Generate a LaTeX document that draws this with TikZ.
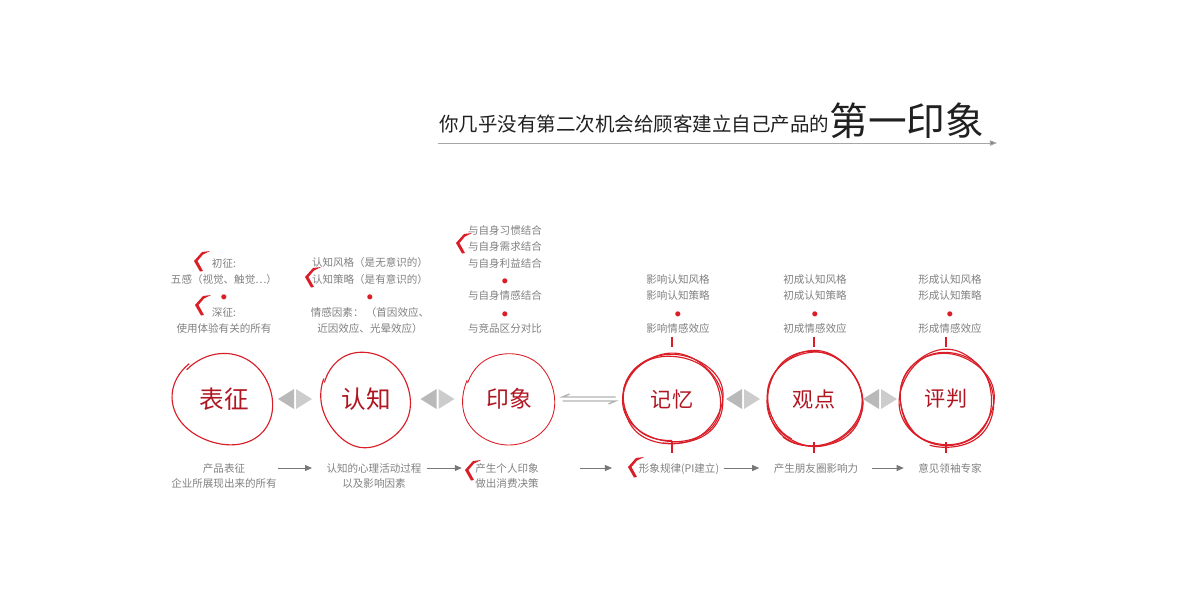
\documentclass[tikz,border=0pt]{standalone}
\usepackage{fontspec}
\setmainfont{Noto Sans CJK SC}
\usetikzlibrary{calc,arrows.meta}

\definecolor{ringred}{RGB}{218,30,40}
\definecolor{wordred}{RGB}{176,22,34}
\definecolor{notegray}{RGB}{128,128,128}
\definecolor{linegray}{RGB}{120,120,120}
\definecolor{inkblack}{RGB}{32,32,32}

\tikzset{
  ring/.style={draw=ringred, line width=0.65pt},
  word/.style={text=wordred, inner sep=0pt, font=\fontsize{14}{14}\selectfont},
  note/.style={text=notegray, align=center, inner sep=0pt, font=\fontsize{6}{9.35}\selectfont},
  foot/.style={text=notegray, align=center, inner sep=0pt, font=\fontsize{6}{8.5}\selectfont},
  flow/.style={draw=linegray, line width=0.5pt, -{Triangle[length=4pt,width=3.4pt]}},
  rule/.style={draw=gray!70, line width=0.5pt, -{Triangle[length=4pt,width=3pt,fill=gray]}},
  harp/.style={draw=gray!60, line width=0.8pt},
  tick/.style={draw=ringred, line width=0.8pt},
  pics/spark/.style={code={
    \fill[ringred] (0,0) -- (8,-9) -- (16,-10) -- (9,-6.5) -- (3.5,0) -- (9,10) -- (6,10.5) -- cycle;
  }},
  pics/split/.style={code={
    \fill[gray!55] (-17,0) -- (-1,-10) -- (-1,10) -- cycle;
    \fill[gray!40] (1,-10) -- (17,0) -- (1,10) -- cycle;
  }},
}

\newcommand{\rd}{{\color{ringred}\fontsize{3.2}{3.2}\selectfont ●}}

\begin{document}
\begin{tikzpicture}[x=0.02cm, y=-0.02cm]
\useasboundingbox (0,0) rectangle (1200,600);

% headline
\node[anchor=base west, inner sep=0pt, text=inkblack] (title) at (439,131)
  {{\fontsize{11.1}{12}\selectfont 你几乎没有第二次机会给顾客建立自己产品的}\raisebox{-2.5pt}{\fontsize{22}{24}\selectfont 第一印象}};
\coordinate (ts) at (438,143);
\coordinate (te) at (997,143);
\draw[rule] (ts) -- (te);

% stages
\node[word] (c1) at (224,399) {表征};
\node[word] (c2) at (366,399) {认知};
\node[word, font=\fontsize{13}{13}\selectfont] (c3) at (509,399) {印象};
\node[word, font=\fontsize{12}{12}\selectfont] (c4) at (672,399) {记忆};
\node[word, font=\fontsize{12}{12}\selectfont] (c5) at (814,399) {观点};
\node[word, font=\fontsize{12}{12}\selectfont] (c6) at (946,399) {评判};

% hand drawn rings
\begin{scope}[shift={(c1)}, rotate=-20]
  \draw[ring] plot[smooth, domain=200:568, samples=50, variable=\t]
    ({(49+0.008*(\t-200)+1.2*sin(3*\t))*cos(\t)}, {(44+0.007*(\t-200)+1.2*sin(3*\t))*sin(\t)});
\end{scope}
\begin{scope}[shift={(c2)}, rotate=10]
  \draw[ring] plot[smooth, domain=210:574, samples=50, variable=\t]
    ({(43+0.005*(\t-210)+1.2*sin(2*\t))*cos(\t)}, {(47+0.005*(\t-210)+1.2*cos(3*\t))*sin(\t)});
\end{scope}
\begin{scope}[shift={(c3)}]
  \draw[ring, line width=0.5pt] plot[smooth, domain=200:563, samples=50, variable=\t]
    ({(45+0.004*(\t-200)+1*sin(3*\t))*cos(\t)}, {(46+0.004*(\t-200)+1*cos(2*\t))*sin(\t)});
\end{scope}
\begin{scope}[shift={(c4)}]
  \draw[ring] plot[smooth, domain=90:460, samples=50, variable=\t]
    ({(48+0.01*(\t-90)+1.5*sin(2*\t))*cos(\t)}, {(43+0.008*(\t-90)+1.5*sin(3*\t))*sin(\t)});
  \draw[ring, rotate=12] plot[smooth, domain=210:575, samples=50, variable=\t]
    ({(50+1.5*cos(3*\t))*cos(\t)}, {(45+1.2*sin(2*\t))*sin(\t)});
  \draw[ring, rotate=-8] plot[smooth, domain=320:680, samples=50, variable=\t]
    ({(49+1.2*sin(3*\t))*cos(\t)}, {(44+1.5*cos(2*\t))*sin(\t)});
\end{scope}
\begin{scope}[shift={(c5)}]
  \draw[ring] plot[smooth, domain=120:490, samples=50, variable=\t]
    ({(46+0.01*(\t-120)+1.5*sin(2*\t))*cos(\t)}, {(46+0.008*(\t-120)+1.5*sin(3*\t))*sin(\t)});
  \draw[ring, rotate=-15] plot[smooth, domain=240:605, samples=50, variable=\t]
    ({(48+1.5*cos(3*\t))*cos(\t)}, {(47+1.2*sin(2*\t))*sin(\t)});
  \draw[ring, rotate=20] plot[smooth, domain=20:385, samples=50, variable=\t]
    ({(47+1.2*sin(3*\t))*cos(\t)}, {(48+1.5*cos(2*\t))*sin(\t)});
\end{scope}
\begin{scope}[shift={(c6)}]
  \draw[ring] plot[smooth, domain=100:470, samples=50, variable=\t]
    ({(45+0.01*(\t-100)+1.5*sin(2*\t))*cos(\t)}, {(47+0.008*(\t-100)+1.5*sin(3*\t))*sin(\t)});
  \draw[ring, rotate=10] plot[smooth, domain=250:615, samples=50, variable=\t]
    ({(47+1.5*cos(3*\t))*cos(\t)}, {(46+1.2*sin(2*\t))*sin(\t)});
  \draw[ring, rotate=-12] plot[smooth, domain=10:375, samples=50, variable=\t]
    ({(46+1.2*sin(3*\t))*cos(\t)}, {(48+1.5*cos(2*\t))*sin(\t)});
\end{scope}

% ticks on the last three rings
\foreach \c in {c4,c5,c6} {
  \draw[tick] ($(\c)+(0,-62)$) -- ++(0,10);
  \draw[tick] ($(\c)+(0,43)$) -- ++(0,11);
}

% links between the rings
\pic at ($(c1)!0.5!(c2)$) {split};
\pic at ($(c2)!0.5!(c3)$) {split};
\pic at ($(c4)!0.5!(c5)$) {split};
\pic at ($(c5)!0.5!(c6)$) {split};
\draw[harp] ($(c3)!0.5!(c4)+(25,-2)$) -- ++(-53,0) -- ++(7,-3);
\draw[harp] ($(c3)!0.5!(c4)+(-28,2)$) -- ++(53,0) -- ++(-7,3);

% notes above
\node[note, anchor=south] (n1) at (224,334) {初征:\\五感（视觉、触觉…）\\\rd\\深征:\\使用体验有关的所有};
\node[note, anchor=south] (n2) at (370,334) {认知风格（是无意识的）\\认知策略（是有意识的）\\\rd\\情感因素： （首因效应、\\近因效应、光晕效应）};
\node[note, anchor=south] (n3) at (505,334) {与自身习惯结合\\与自身需求结合\\与自身利益结合\\\rd\\与自身情感结合\\\rd\\与竞品区分对比};
\node[note, anchor=south] (n4) at (678,334) {影响认知风格\\影响认知策略\\\rd\\影响情感效应};
\node[note, anchor=south] (n5) at (815,334) {初成认知风格\\初成认知策略\\\rd\\初成情感效应};
\node[note, anchor=south] (n6) at (950,334) {形成认知风格\\形成认知策略\\\rd\\形成情感效应};

% notes below
\node[foot, anchor=north] (b1) at (224,463) {产品表征\\企业所展现出来的所有};
\node[foot, anchor=north] (b2) at (374,463) {认知的心理活动过程\\以及影响因素};
\node[foot, anchor=north] (b3) at (507,463) {产生个人印象\\做出消费决策};
\node[foot, anchor=north] (b4) at (679,463) {形象规律(PI建立)};
\node[foot, anchor=north] (b5) at (816,463) {产生朋友圈影响力};
\node[foot, anchor=north] (b6) at (950,463) {意见领袖专家};

\foreach \a/\b/\p/\q in {c1/c2/0.38/0.62, c2/c3/0.43/0.67, c3/c4/0.436/0.632, c4/c5/0.364/0.614, c5/c6/0.44/0.68}
  \draw[flow] ($(\a)!\p!(\b)+(0,69)$) -- ($(\a)!\q!(\b)+(0,69)$);

% marks
\pic at (194,261) {spark};
\pic at (195,305) {spark};
\pic at (305,277) {spark};
\pic at (456,243) {spark};
\pic at (465,470) {spark};
\pic at (628,467) {spark};
\end{tikzpicture}
\end{document}
